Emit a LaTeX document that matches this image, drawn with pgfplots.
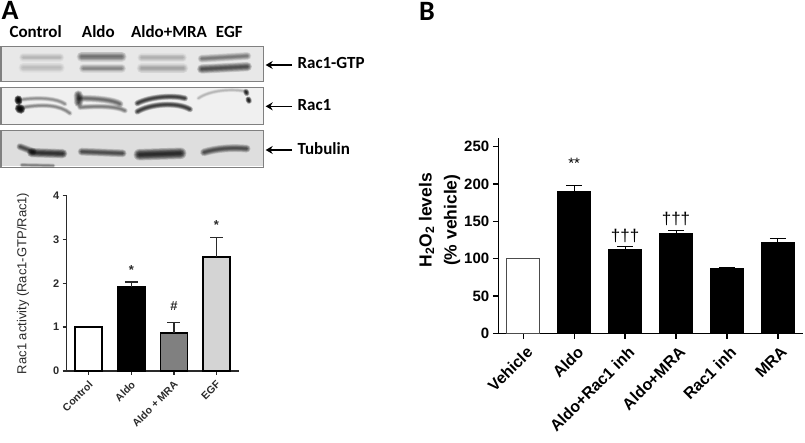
\documentclass[border=0pt]{standalone}
\usepackage{fontspec}
\setmainfont{Liberation Sans}
\newfontfamily\calib{Carlito}
\usepackage{pgfplots}
\pgfplotsset{compat=1.18}
\usetikzlibrary{arrows.meta}
\definecolor{inkA}{HTML}{2A2A2A}
% one smeared band on a blot, in 3x zoom units
\newcommand{\band}[3][0.35]{%
  \foreach \k in {3.6,3.1,2.6,2.2,1.8,1.4,1.0,0.6}
    \draw[line width=#2*\k*1pt,black,opacity=#1*0.15,line cap=round] #3;}
\newcommand{\lab}{\calib\bfseries\fontsize{17}{17}\selectfont}
\pgfplotsset{
  panel/.style={scale only axis, axis y line=left, axis x line=bottom,
    axis line style={-}, tick align=outside, clip=false,
    ybar, /pgf/bar shift=0pt},
}
\begin{document}
\begin{tikzpicture}[x=1pt,y=1pt]
\path[use as bounding box] (0,0) rectangle (805,443);

% blots drawn in zoomed pixel units
\begin{scope}[shift={(0,443)},yscale=-1/3,xscale=1/3]
  \draw[fill=black!9,draw=black!50,line width=1pt] (3,140) rectangle (790,245);
  \draw[fill=black!6,draw=black!50,line width=1pt] (3,262) rectangle (790,373);
  \draw[fill=black!13,draw=black!50,line width=1pt] (3,393) rectangle (790,504);
  \draw[white,line width=1pt] (5,499)--(788,499);
  % Rac1-GTP
  \band[0.18]{2.4}{(70,172)--(180,172)}
  \band[0.16]{2.8}{(70,203)--(180,203)}
  \band[0.55]{2.8}{(245,170)--(365,170)}
  \band[0.42]{2.4}{(250,205)--(365,205)}
  \band[0.2]{2.4}{(425,173)--(548,173)}
  \band[0.26]{2.8}{(425,205)--(550,205)}
  \band[0.5]{2.2}{(605,176)--(742,168)}
  \band[0.8]{2.6}{(605,207)--(742,200)}
  % Rac1
  \band[2.4]{2.2}{(55,298)--(56,303)}
  \band[2.4]{2.5}{(58,325)--(62,328)}
  \band[0.4]{1.4}{(70,298) .. controls (120,292) and (170,295) .. (195,312)}
  \band[0.45]{1.4}{(70,322) .. controls (130,312) and (180,315) .. (210,340)}
  \band[0.9]{2.6}{(235,285)--(236,308)}
  \band[0.6]{2}{(240,295) .. controls (290,295) and (340,300) .. (360,312)}
  \band[0.5]{1.6}{(240,322) .. controls (290,318) and (350,318) .. (375,332)}
  \band[1.0]{1.7}{(412,310) .. controls (450,290) and (520,285) .. (555,295)}
  \band[1.0]{1.7}{(412,335) .. controls (450,312) and (530,305) .. (570,328)}
  \band[0.2]{1.2}{(595,295) .. controls (630,270) and (700,265) .. (740,275)}
  \band[1.2]{1.6}{(738,275)--(740,280)}
  \band[1.5]{1.6}{(745,298)--(747,303)}
  % Tubulin
  \band[0.8]{2}{(60,440)--(100,455)}
  \band[1.1]{2.6}{(95,458)--(188,461)}
  \band[0.8]{2.2}{(245,455)--(368,460)}
  \band[1.2]{3.2}{(418,464)--(542,460)}
  \band[0.8]{2.2}{(612,457) .. controls (650,445) and (700,442) .. (740,446)}
  \band[0.45]{1.2}{(65,495)--(160,497)}
  % arrows
  \foreach \py in {195,319,450}
    \draw[-{Stealth[length=7pt,width=8pt]},line width=1.6pt,black] (876,\py)--(797,\py);
  % texts
  \node[font=\calib\bfseries\fontsize{28}{28}\selectfont,inner sep=0] at (30,32) {A};
  \node[font=\calib\bfseries\fontsize{28}{28}\selectfont,inner sep=0] at (1281,33) {B};
  \node[font=\lab,inner sep=0] at (107,96) {Control};
  \node[font=\lab,inner sep=0] at (295,96) {Aldo};
  \node[font=\lab,inner sep=0] at (507,96) {Aldo+MRA};
  \node[font=\lab,inner sep=0] at (688,96) {EGF};
  \node[font=\lab,inner sep=0,anchor=west] at (892,190) {Rac1-GTP};
  \node[font=\lab,inner sep=0,anchor=west] at (892,315) {Rac1};
  \node[font=\lab,inner sep=0,anchor=west] at (892,445) {Tubulin};
\end{scope}

% panel A
\begin{axis}[panel, at={(66.7pt,72pt)}, anchor=south west,
  width=172.3pt, height=175.3pt,
  xmin=-0.516, xmax=3.528, ymin=0, ymax=4,
  xtick={0,1,2,3}, xticklabels={Control,Aldo,Aldo + MRA,EGF},
  ytick={0,1,2,3,4},
  bar width=27pt,
  axis line style={line width=1.5pt,inkA},
  major tick length=4pt,
  tick style={line width=1.4pt,inkA},
  /pgf/number format/assume math mode=true,
  yticklabel style={font=\bfseries\fontsize{11}{11}\selectfont,text=inkA},
  xticklabel style={font=\bfseries\fontsize{10.5}{11}\selectfont,text=inkA,rotate=45,anchor=north east,inner sep=1pt,xshift=-3pt,yshift=-2pt},
  ylabel={Rac1 activity (Rac1-GTP/Rac1)},
  ylabel style={at={(axis description cs:-0.254,0.5)},anchor=center,font=\fontsize{13}{13}\selectfont,text=inkA},
  error bars/y dir=plus, error bars/y explicit,
  error bars/error bar style={line width=1.3pt,inkA},
  error bars/error mark options={rotate=90,mark size=6.5pt,line width=1.2pt,inkA},
]
\addplot[draw=black,line width=1.6pt,fill=white] coordinates {(0,1)};
\addplot[draw=black,line width=1.6pt,fill=black] coordinates {(1,1.92) +- (0,0.11)};
\addplot[draw=black,line width=1.6pt,fill=black!50] coordinates {(2,0.87) +- (0,0.24)};
\addplot[draw=black,line width=1.6pt,fill=black!17] coordinates {(3,2.6) +- (0,0.45)};
\node[font=\bfseries\fontsize{13}{13}\selectfont,text=inkA] at (axis cs:1,2.3) {*};
\node[font=\bfseries\fontsize{13}{13}\selectfont,text=inkA] at (axis cs:2,1.48) {\#};
\node[font=\bfseries\fontsize{13}{13}\selectfont,text=inkA] at (axis cs:3,3.32) {*};
\end{axis}

% panel B
\begin{axis}[panel, at={(498.3pt,109.7pt)}, anchor=south west,
  width=304.7pt, height=195pt,
  xmin=-0.491, xmax=5.495, ymin=0, ymax=261.3,
  xtick={0,1,2,3,4,5}, xticklabels={Vehicle,Aldo,Aldo+Rac1 inh,Aldo+MRA,Rac1 inh,MRA},
  ytick={0,50,100,150,200,250},
  bar width=33pt,
  axis line style={line width=1.5pt,black},
  major tick length=5.5pt,
  tick style={line width=1.4pt,black},
  /pgf/number format/assume math mode=true,
  yticklabel style={font=\bfseries\fontsize{15}{15}\selectfont},
  xticklabel style={font=\bfseries\fontsize{16}{16}\selectfont,rotate=45,anchor=north east,inner sep=2pt,xshift=-1pt,yshift=-4pt},
  ylabel={H\textsubscript{2}O\textsubscript{2} levels\\(\% vehicle)},
  ylabel style={at={(axis description cs:-0.193,0.58)},anchor=center,align=center,font=\bfseries\fontsize{17.5}{25}\selectfont},
  error bars/y dir=plus, error bars/y explicit,
  error bars/error bar style={line width=1pt},
  error bars/error mark options={rotate=90,mark size=8pt,line width=0.8pt},
]
\addplot[draw=black!70,line width=1pt,fill=white] coordinates {(0,100)};
\addplot[draw=black,line width=1pt,fill=black] coordinates {(1,190) +- (0,8)};
\addplot[draw=black,line width=1pt,fill=black] coordinates {(2,112) +- (0,4.5)};
\addplot[draw=black,line width=1pt,fill=black] coordinates {(3,134) +- (0,4)};
\addplot[draw=black,line width=1pt,fill=black] coordinates {(4,87) +- (0,1.2)};
\addplot[draw=black,line width=1pt,fill=black] coordinates {(5,122) +- (0,5)};
\node[font=\fontsize{15}{15}\selectfont] at (axis cs:1,228) {**};
\node[font=\fontsize{17}{17}\selectfont] at (axis cs:2,131) {†††};
\node[font=\fontsize{17}{17}\selectfont] at (axis cs:3,153) {†††};
\end{axis}
\end{tikzpicture}
\end{document}
